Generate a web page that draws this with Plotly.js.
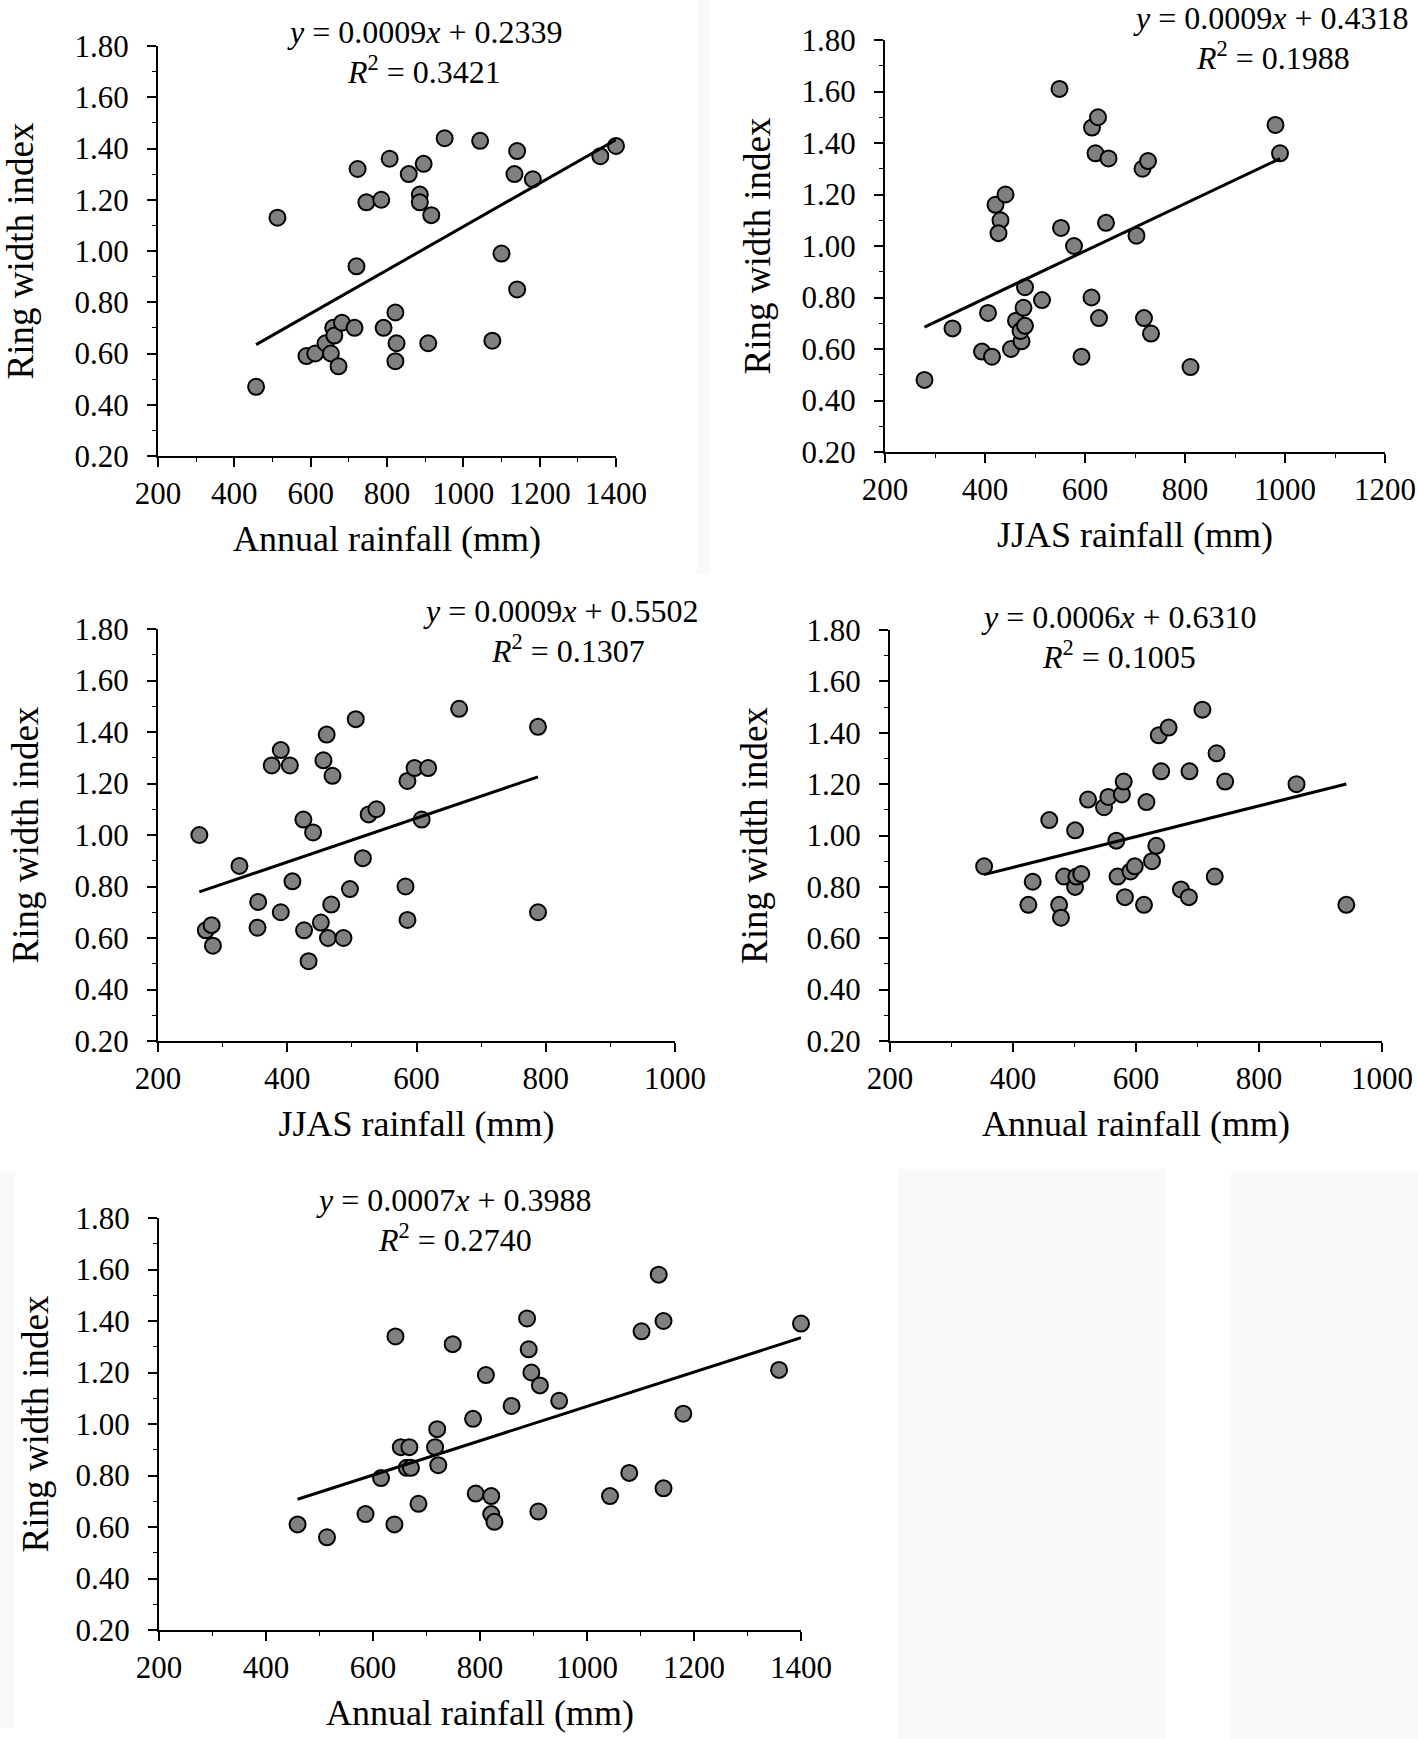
<!DOCTYPE html>
<html>
<head>
<meta charset="utf-8">
<script src="https://cdn.plot.ly/plotly-3.0.1.min.js"></script>
<style>
  html, body { margin: 0; padding: 0; background: #ffffff; }
  #chart { width: 1418px; height: 1739px; }
</style>
</head>
<body>
<div id="chart"></div>
<script>
// Panel A: annual rainfall vs ring width index
const annualA = [457, 513, 589, 612, 639, 653, 659, 662, 673, 682, 715, 720, 723, 746, 785, 791, 807, 822,
  825, 822, 857, 886, 886, 896, 916, 908, 951, 1044, 1076, 1100, 1134, 1141, 1141, 1182, 1359, 1400];
const rwiA = [0.47, 1.13, 0.59, 0.60, 0.64, 0.60, 0.70, 0.67, 0.55, 0.72, 0.70, 0.94, 1.32, 1.19, 1.20, 0.70, 1.36, 0.76,
  0.64, 0.57, 1.30, 1.22, 1.19, 1.34, 1.14, 0.64, 1.44, 1.43, 0.65, 0.99, 1.30, 1.39, 0.85, 1.28, 1.37, 1.41];

// Panel B: JJAS rainfall vs ring width index
const jjasB = [279, 335, 394, 414, 406, 421, 431, 427, 441, 452, 462, 473, 471, 480, 477, 480, 514, 549,
  552, 578, 593, 614, 626, 621, 647, 642, 613, 628, 703, 715, 726, 718, 732, 811, 981, 990];
const rwiB = [0.48, 0.68, 0.59, 0.57, 0.74, 1.16, 1.10, 1.05, 1.20, 0.60, 0.71, 0.63, 0.67, 0.69, 0.76, 0.84, 0.79, 1.61,
  1.07, 1.00, 0.57, 1.46, 1.50, 1.36, 1.34, 1.09, 0.80, 0.72, 1.04, 1.30, 1.33, 0.72, 0.66, 0.53, 1.47, 1.36];

// Panel C: JJAS rainfall vs ring width index
const jjasC = [264, 274, 283, 285, 326, 355, 354, 376, 390, 404, 390, 408, 425, 426, 433, 440, 452, 456, 461,
  463, 468, 470, 487, 497, 506, 517, 526, 538, 583, 586, 586, 597, 618, 608, 666, 788, 788];
const rwiC = [1.00, 0.63, 0.65, 0.57, 0.88, 0.74, 0.64, 1.27, 1.33, 1.27, 0.70, 0.82, 1.06, 0.63, 0.51, 1.01, 0.66, 1.29, 1.39,
  0.60, 0.73, 1.23, 0.60, 0.79, 1.45, 0.91, 1.08, 1.10, 0.80, 0.67, 1.21, 1.26, 1.26, 1.06, 1.49, 1.42, 0.70];

// Panel D: annual rainfall vs ring width index
const annualD = [353, 425, 432, 459, 475, 478, 483, 501, 501, 503, 511, 522, 548, 555, 568, 570, 577, 580, 582,
  591, 598, 613, 617, 626, 633, 637, 641, 653, 673, 686, 687, 708, 731, 728, 745, 861, 942];
const rwiD = [0.88, 0.73, 0.82, 1.06, 0.73, 0.68, 0.84, 1.02, 0.80, 0.84, 0.85, 1.14, 1.11, 1.15, 0.98, 0.84, 1.16, 1.21, 0.76,
  0.86, 0.88, 0.73, 1.13, 0.90, 0.96, 1.39, 1.25, 1.42, 0.79, 0.76, 1.25, 1.49, 1.32, 0.84, 1.21, 1.20, 0.73];

// Panel E: annual rainfall vs ring width index
const annualE = [459, 514, 586, 615, 640, 642, 652, 668, 663, 671, 685, 716, 720, 722, 749, 787, 792, 811, 821,
  821, 827, 859, 888, 891, 896, 912, 909, 948, 1043, 1079, 1102, 1134, 1143, 1143, 1180, 1359, 1400];
const rwiE = [0.61, 0.56, 0.65, 0.79, 0.61, 1.34, 0.91, 0.91, 0.83, 0.83, 0.69, 0.91, 0.98, 0.84, 1.31, 1.02, 0.73, 1.19, 0.72,
  0.65, 0.62, 1.07, 1.41, 1.29, 1.20, 1.15, 0.66, 1.09, 0.72, 0.81, 1.36, 1.58, 1.40, 0.75, 1.04, 1.21, 1.39];

const equations = [
  ['<i>y</i> = 0.0009<i>x</i> + 0.2339', '<i>R</i><sup>2</sup> = 0.3421'],
  ['<i>y</i> = 0.0009<i>x</i> + 0.4318', '<i>R</i><sup>2</sup> = 0.1988'],
  ['<i>y</i> = 0.0009<i>x</i> + 0.5502', '<i>R</i><sup>2</sup> = 0.1307'],
  ['<i>y</i> = 0.0006<i>x</i> + 0.6310', '<i>R</i><sup>2</sup> = 0.1005'],
  ['<i>y</i> = 0.0007<i>x</i> + 0.3988', '<i>R</i><sup>2</sup> = 0.2740']
];
const xTitles = ['Annual rainfall (mm)', 'JJAS rainfall (mm)', 'JJAS rainfall (mm)', 'Annual rainfall (mm)', 'Annual rainfall (mm)'];

const W = 1418, H = 1739;
const serif = 'Liberation Serif, Times New Roman, serif';

// linear least squares fit
function fit(xs, ys) {
  const n = xs.length;
  const mx = xs.reduce((a, b) => a + b, 0) / n;
  const my = ys.reduce((a, b) => a + b, 0) / n;
  let sxy = 0, sxx = 0;
  for (let i = 0; i < n; i++) {
    sxy += (xs[i] - mx) * (ys[i] - my);
    sxx += (xs[i] - mx) * (xs[i] - mx);
  }
  const b = sxy / sxx;
  return { b: b, a: my - b * mx };
}

// pixel boxes of each plot area: [left, right, top, bottom]
const boxes = [
  [158, 616, 46, 456],
  [885, 1385, 40, 452],
  [158, 675, 629, 1041],
  [890, 1382, 630, 1041],
  [159, 801, 1218, 1630]
];
const xRanges = [[200, 1400], [200, 1200], [200, 1000], [200, 1000], [200, 1400]];
const eqPos = [
  [[425, 32], [424, 70]],
  [[1271, 18], [1273, 56]],
  [[561, 611], [568, 649]],
  [[1119, 617], [1119, 655]],
  [[454, 1200], [455, 1238]]
];
const yStandoff = [33, 20, 25, 28, 16];

const series = [[annualA, rwiA], [jjasB, rwiB], [jjasC, rwiC], [annualD, rwiD], [annualE, rwiE]];

const data = [];
const layout = {
  width: W,
  height: H,
  margin: { l: 0, r: 0, t: 0, b: 0 },
  paper_bgcolor: '#ffffff',
  plot_bgcolor: 'rgba(0,0,0,0)',
  showlegend: false,
  font: { family: serif, color: '#000000', size: 31 },
  annotations: [],
  shapes: [
    { type: 'rect', xref: 'paper', yref: 'paper', x0: 697 / W, x1: 710 / W, y0: 1 - 574 / H, y1: 1,
      fillcolor: '#f9f9f9', line: { width: 0 }, layer: 'below' },
    { type: 'rect', xref: 'paper', yref: 'paper', x0: 897 / W, x1: 1166 / W, y0: 0, y1: 1 - 1169 / H,
      fillcolor: '#f9f9f9', line: { width: 0 }, layer: 'below' },
    { type: 'rect', xref: 'paper', yref: 'paper', x0: 1231 / W, x1: 1, y0: 0, y1: 1 - 1171 / H,
      fillcolor: '#f9f9f9', line: { width: 0 }, layer: 'below' },
    { type: 'rect', xref: 'paper', yref: 'paper', x0: 0, x1: 15 / W, y0: 1 - 1728 / H, y1: 1 - 1171 / H,
      fillcolor: '#f9f9f9', line: { width: 0 }, layer: 'below' }
  ]
};

series.forEach((s, i) => {
  const k = i === 0 ? '' : String(i + 1);
  const xs = s[0], ys = s[1];
  const f = fit(xs, ys);
  const x0 = Math.min(...xs), x1 = Math.max(...xs);

  data.push({
    x: xs, y: ys, type: 'scatter', mode: 'markers',
    xaxis: 'x' + k, yaxis: 'y' + k,
    cliponaxis: false,
    marker: { size: 16, color: '#808080', line: { color: '#000000', width: 2 } },
    hoverinfo: 'x+y'
  });
  data.push({
    x: [x0, x1], y: [f.a + f.b * x0, f.a + f.b * x1], type: 'scatter', mode: 'lines',
    xaxis: 'x' + k, yaxis: 'y' + k,
    cliponaxis: false,
    line: { color: '#000000', width: 3 },
    hoverinfo: 'skip'
  });

  const b = boxes[i];
  layout['xaxis' + k] = {
    domain: [b[0] / W, b[1] / W],
    anchor: 'y' + k,
    range: xRanges[i],
    dtick: 200,
    showgrid: false, zeroline: false,
    showline: true, linecolor: '#000000', linewidth: 2,
    ticks: 'outside', ticklen: 9, tickwidth: 2, tickcolor: '#000000',
    minor: { dtick: 100, ticks: 'outside', ticklen: 4, tickwidth: 1, tickcolor: '#000000' },
    ticklabelstandoff: 0,
    tickfont: { family: serif, size: 31, color: '#000000' },
    title: { text: xTitles[i], font: { family: serif, size: 36, color: '#000000' }, standoff: 16 }
  };
  layout['yaxis' + k] = {
    domain: [1 - b[3] / H, 1 - b[2] / H],
    anchor: 'x' + k,
    range: [0.2, 1.8],
    dtick: 0.2,
    tickformat: '.2f',
    showgrid: false, zeroline: false,
    showline: true, linecolor: '#000000', linewidth: 2,
    ticks: 'outside', ticklen: 9, tickwidth: 2, tickcolor: '#000000',
    minor: { dtick: 0.1, ticks: 'outside', ticklen: 4, tickwidth: 1, tickcolor: '#000000' },
    ticklabelstandoff: 12,
    tickfont: { family: serif, size: 31, color: '#000000' },
    title: { text: 'Ring width index', font: { family: serif, size: 37, color: '#000000' }, standoff: yStandoff[i] }
  };

  eqPos[i].forEach((p, j) => {
    layout.annotations.push({
      xref: 'paper', yref: 'paper',
      x: p[0] / W, y: 1 - p[1] / H,
      xanchor: 'center', yanchor: 'middle',
      text: equations[i][j], showarrow: false,
      font: { family: serif, size: 32, color: '#000000' }
    });
  });
});

Plotly.newPlot('chart', data, layout, { displayModeBar: false, staticPlot: true });
</script>
</body>
</html>
